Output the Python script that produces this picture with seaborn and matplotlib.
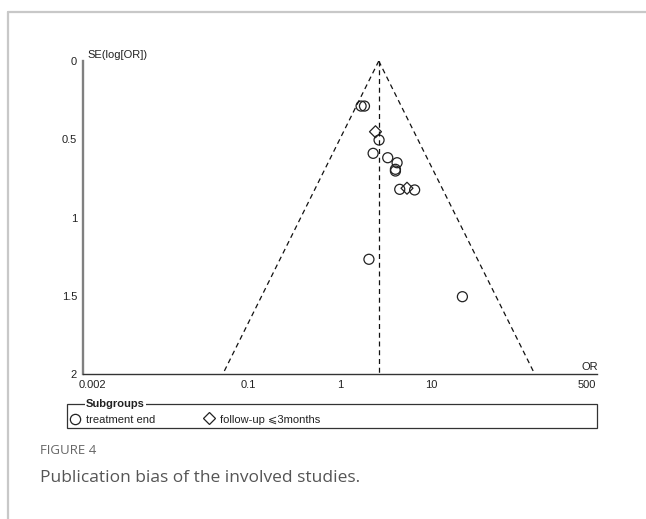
import numpy as np
import pandas as pd
import seaborn as sns
import matplotlib.pyplot as plt
from matplotlib.lines import Line2D
from matplotlib.patches import Rectangle
from matplotlib.ticker import NullLocator

# studies (odds ratio, standard error of log OR)
or_treatment = [1.70, 1.85, 2.67, 2.30, 3.32, 4.20, 4.03, 4.03, 4.49, 6.53, 2.07, 21.7]
se_treatment = [0.288, 0.288, 0.505, 0.59, 0.618, 0.65, 0.692, 0.703, 0.82, 0.824, 1.267, 1.506]
or_followup = [2.44, 5.39]
se_followup = [0.452, 0.813]

pooled_or = 2.65
subgroups = ['treatment end', 'follow-up \u2a7d3months']
x_ticks = [0.002, 0.1, 1, 10, 500]
x_ticklabels = ['0.002', '0.1', '1', '10', '500']
y_ticks = [0, 0.5, 1, 1.5, 2]
y_ticklabels = ['0', '0.5', '1', '1.5', '2']

df = pd.DataFrame({
    'OR': or_treatment + or_followup,
    'SE': se_treatment + se_followup,
    'group': [subgroups[0]] * len(or_treatment) + [subgroups[1]] * len(or_followup),
})

sns.set_style('white')
plt.rcParams['font.family'] = ['Liberation Sans', 'DejaVu Sans']
fs = 8

W, H = 646, 519
fig = plt.figure(figsize=(W / 100, H / 100), dpi=100)
ax = fig.add_axes([83 / W, 1 - 374 / H, 514 / W, 313 / H])
ax.set_xscale('log')
ax.set_xlim(1 / 640, 640)
ax.set_ylim(2, 0)

# funnel: pooled estimate and 95% limits
se_line = np.array([0, 2])
dash = (0, (4, 3))
ax.plot([pooled_or, pooled_or], se_line, color='#111', lw=0.9, ls=dash)
ax.plot(pooled_or * np.exp(-1.96 * se_line), se_line, color='#111', lw=0.9, ls=dash)
ax.plot(pooled_or * np.exp(1.96 * se_line), se_line, color='#111', lw=0.9, ls=dash)

# points
sns.scatterplot(data=df[df['group'] == subgroups[0]], x='OR', y='SE', marker='o', s=52,
                facecolors='none', edgecolor='#222', linewidth=0.9, ax=ax, legend=False)
sns.scatterplot(data=df[df['group'] == subgroups[1]], x='OR', y='SE', marker='D', s=37,
                facecolors='none', edgecolor='#222', linewidth=0.9, ax=ax, legend=False)

ax.set_xlabel('')
ax.set_ylabel('')
ax.set_xticks(x_ticks)
ax.set_xticklabels(x_ticklabels)
ax.xaxis.set_minor_locator(NullLocator())
ax.set_yticks(y_ticks)
ax.set_yticklabels(y_ticklabels)

for s in ['top', 'right']:
    ax.spines[s].set_visible(False)
ax.spines['left'].set_color('#808080')
ax.spines['left'].set_linewidth(1.7)
ax.spines['bottom'].set_color('#333333')
ax.spines['bottom'].set_linewidth(1.0)
ax.tick_params(axis='y', direction='inout', length=6.5, width=0.9, color='#444',
               pad=1, labelsize=fs, labelcolor='#222')
ax.tick_params(axis='x', direction='inout', length=4.5, width=0.9, color='#444',
               pad=2, labelsize=fs, labelcolor='#222')

fig.text(87 / W, 1 - 55 / H, 'SE(log[OR])', fontsize=fs, va='center', ha='left', color='#222')
fig.text(590 / W, 1 - 367 / H, 'OR', fontsize=fs, va='center', ha='center', color='#222')

# legend box
fig.add_artist(Rectangle((67 / W, 1 - 428 / H), (597 - 67) / W, 24 / H, transform=fig.transFigure,
                         fill=False, ec='#333', lw=0.9))
fig.text(86 / W, 1 - 404 / H, 'Subgroups', fontsize=fs, fontweight='bold', va='center', ha='left',
         color='#222', bbox=dict(fc='white', ec='none', pad=0.6))
fig.add_artist(Line2D([75 / W], [1 - 419 / H], marker='o', mfc='none', mec='#222', ms=7.4, mew=0.9,
                      transform=fig.transFigure))
fig.text(86 / W, 1 - 420 / H, subgroups[0], fontsize=fs, va='center', ha='left', color='#222')
fig.add_artist(Line2D([209 / W], [1 - 418 / H], marker='D', mfc='none', mec='#222', ms=6.2, mew=0.9,
                      transform=fig.transFigure))
fig.text(220 / W, 1 - 420 / H, subgroups[1], fontsize=fs, va='center', ha='left', color='#222')

# page frame
fig.add_artist(Line2D([8 / W, 8 / W], [0, 1 - 12 / H], color='#c8c8c8', lw=1.6, transform=fig.transFigure))
fig.add_artist(Line2D([8 / W, 1], [1 - 12 / H, 1 - 12 / H], color='#c8c8c8', lw=1.6, transform=fig.transFigure))

# caption
fig.text(40 / W, 1 - 450 / H, 'FIGURE 4', fontsize=9.5, color='#666', family='Open Sans', va='center')
fig.text(40 / W, 1 - 478 / H, 'Publication bias of the involved studies.', fontsize=12.5, color='#555',
         family='Open Sans', va='center')

fig.savefig('out.png', dpi=100)
